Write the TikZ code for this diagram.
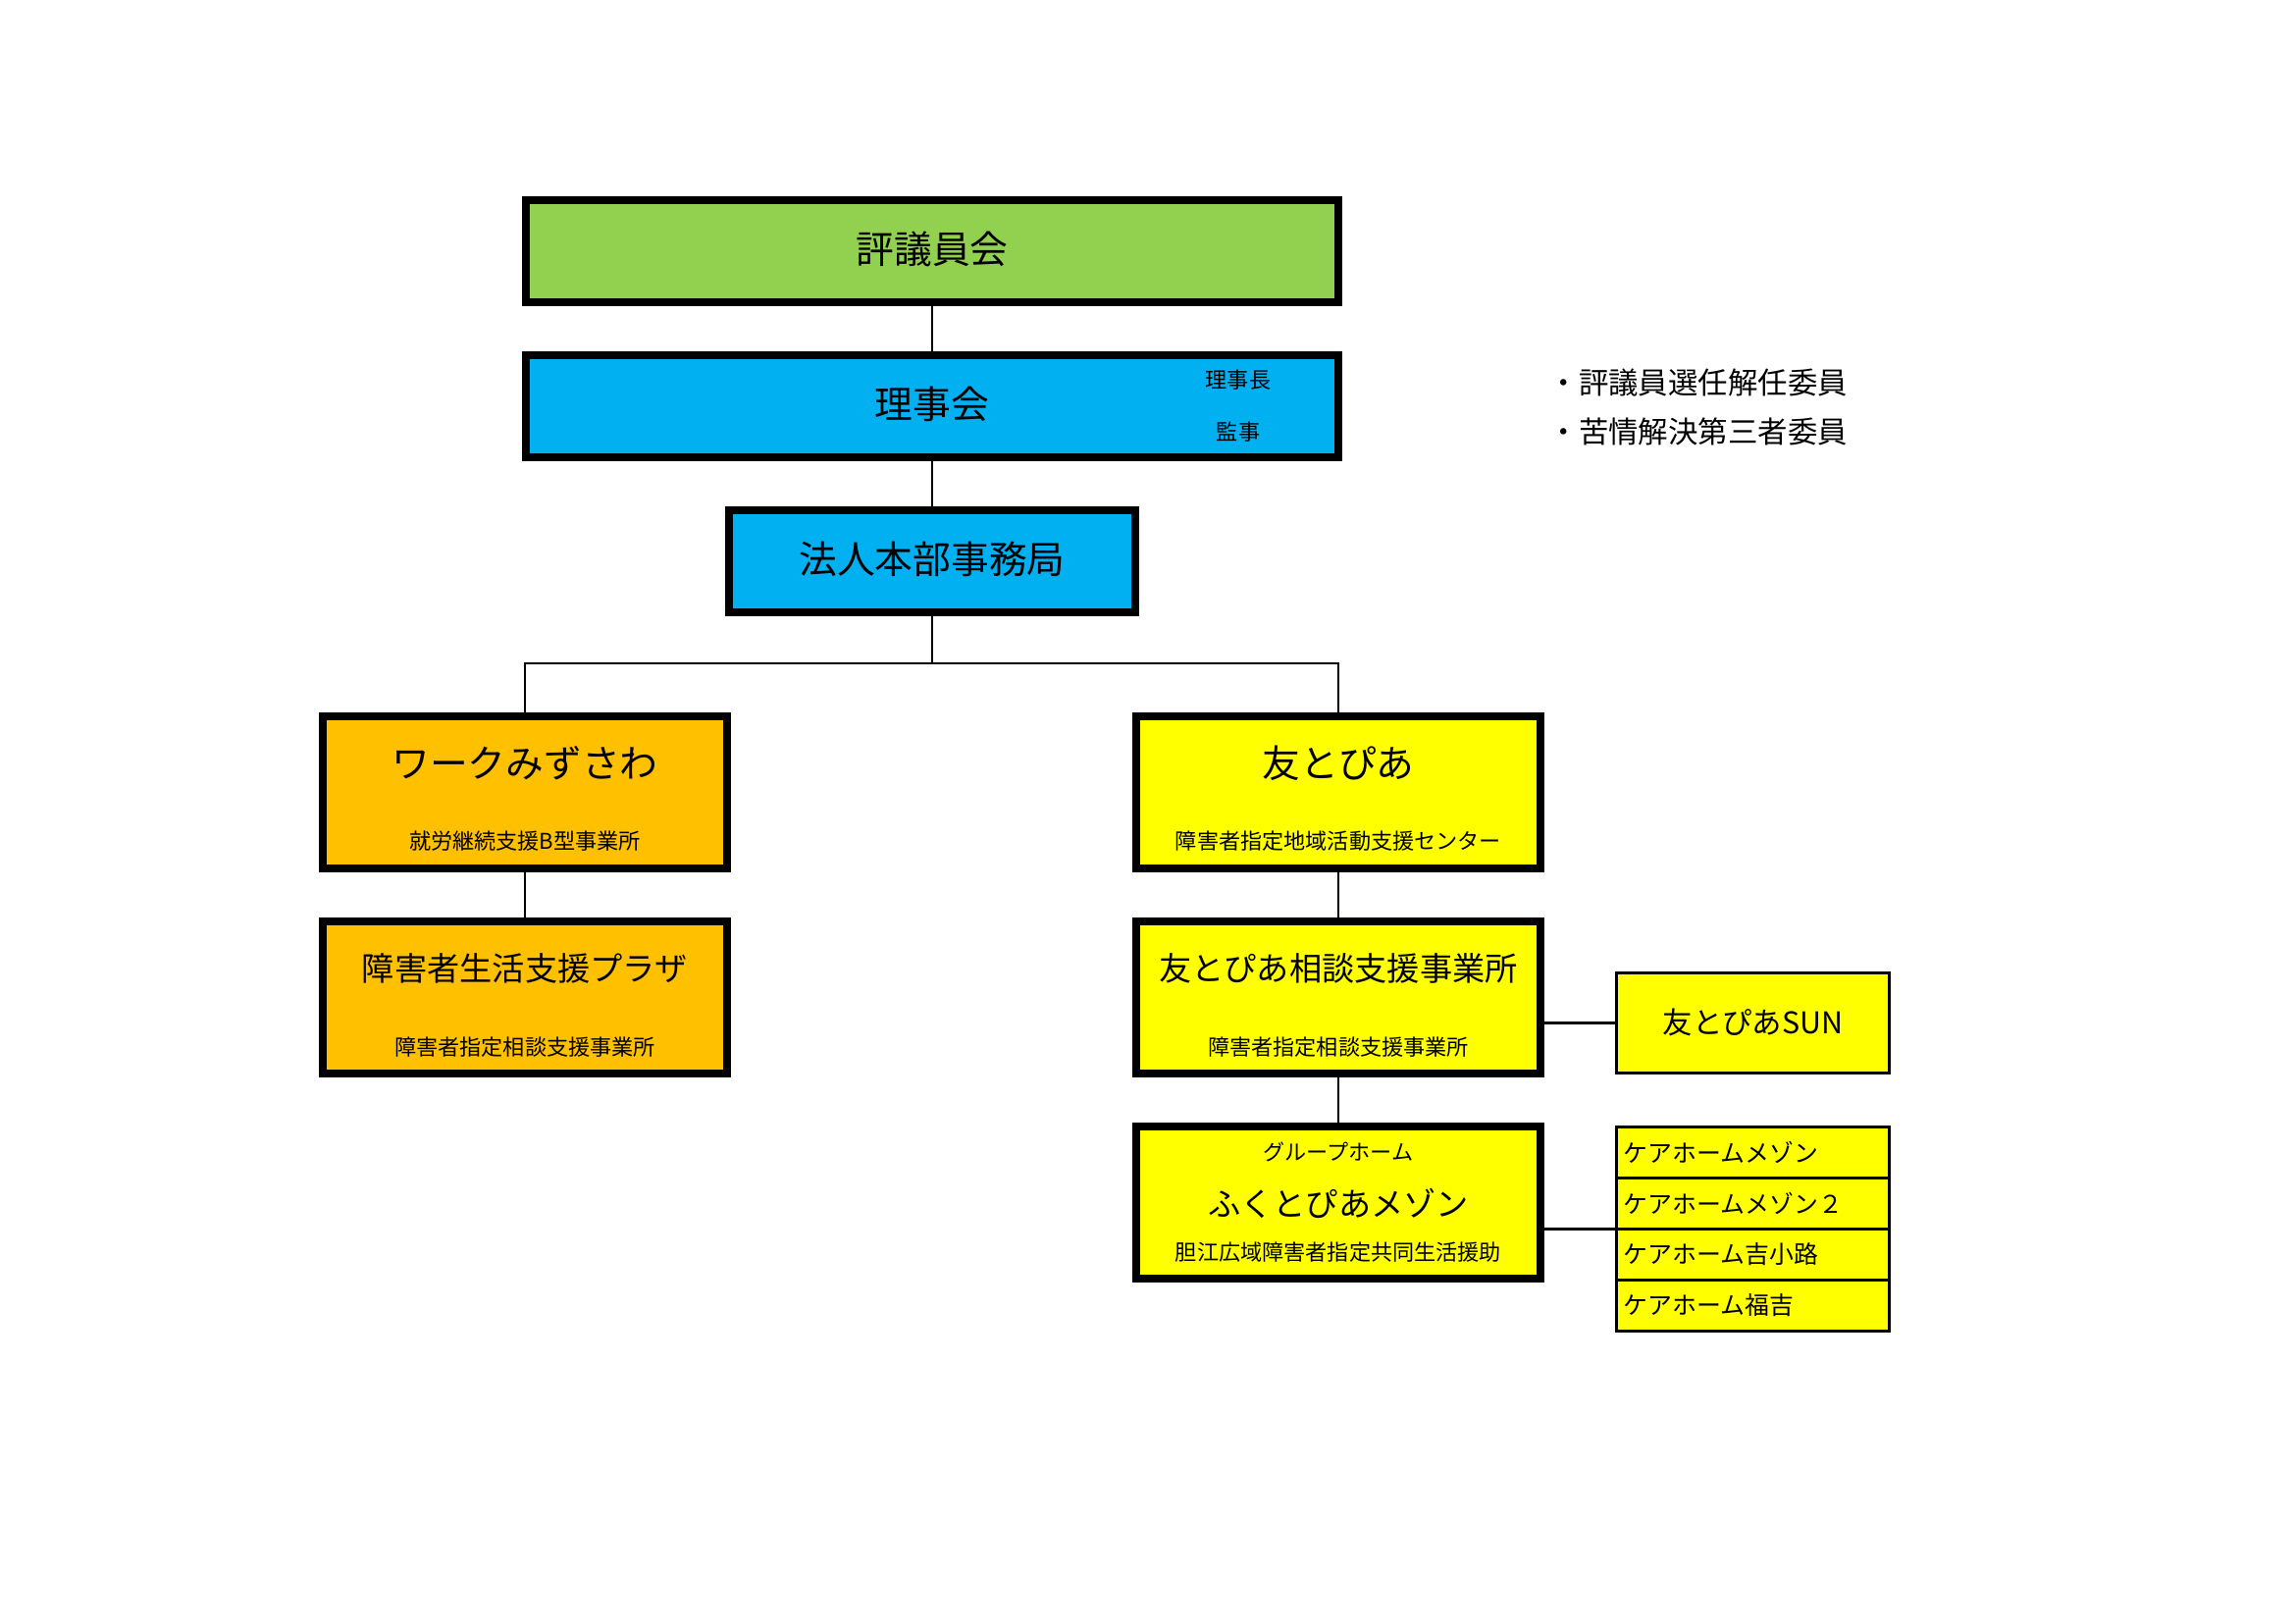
\documentclass[tikz,border=0pt]{standalone}
\usepackage{fontspec}
\setmainfont{Noto Sans CJK JP}
\definecolor{cgreen}{HTML}{92D050}
\definecolor{cblue}{HTML}{00B0F0}
\definecolor{corange}{HTML}{FFC000}
\definecolor{cyellow}{HTML}{FFFF00}
\begin{document}
\begin{tikzpicture}[x=0.127mm,y=-0.127mm,
  thickbox/.style={draw=black,line width=1.016mm,inner sep=0pt,minimum width=828*0.127mm,minimum height=104*0.127mm},
  unitbox/.style={draw=black,line width=1.016mm,inner sep=0pt,minimum width=412*0.127mm,minimum height=155*0.127mm},
  thinbox/.style={draw=black,line width=0.38mm,inner sep=0pt,outer sep=0pt,minimum width=278*0.127mm},
  conn/.style={draw=black,line width=0.28mm},
  tbig/.style={inner sep=0pt,font=\fontsize{14pt}{16pt}\selectfont},
  tmid/.style={inner sep=0pt,font=\fontsize{12pt}{14pt}\selectfont},
  tsmall/.style={inner sep=0pt,font=\fontsize{8pt}{10pt}\selectfont},
  tcare/.style={inner sep=0pt,anchor=west,font=\fontsize{9pt}{11pt}\selectfont},
  tnote/.style={inner sep=0pt,anchor=west,font=\fontsize{11pt}{13pt}\selectfont}]
\useasboundingbox[fill=white] (0,0) rectangle (2339,1654);

% top boxes
\node[thickbox,fill=cgreen] (hyo) at (950,256) {};
\node[tbig] (hyoT) at (950,254) {評議員会};
\node[thickbox,fill=cblue] (rij) at (950,414) {};
\node[tbig] (rijT) at (950,412) {理事会};
\node[tsmall] (rijC) at (1262,387) {理事長};
\node[tsmall] (rijK) at (1262,440) {監事};
\node[thickbox,fill=cblue,minimum width=414*0.127mm] (hq) at (950,572) {};
\node[tbig] (hqT) at (950,570) {法人本部事務局};

% notes
\node[tnote] (n1) at (1578,390) {・評議員選任解任委員};
\node[tnote] (n2) at (1578,440) {・苦情解決第三者委員};

% left branch
\node[unitbox,fill=corange] (work) at (535,807.5) {};
\node[tbig] (workT) at (535,778) {ワークみずさわ};
\node[tsmall] (workS) at (535,857) {就労継続支援B型事業所};
\node[unitbox,fill=corange] (plaza) at (535,1016.5) {};
\node[tmid] (plazaT) at (535,987) {障害者生活支援プラザ};
\node[tsmall] (plazaS) at (535,1067) {障害者指定相談支援事業所};

% right branch
\node[unitbox,fill=cyellow] (tomo) at (1364,807.5) {};
\node[tbig] (tomoT) at (1364,778) {友とぴあ};
\node[tsmall] (tomoS) at (1364,857) {障害者指定地域活動支援センター};
\node[unitbox,fill=cyellow] (soudan) at (1364,1016.5) {};
\node[tmid] (soudanT) at (1364,987) {友とぴあ相談支援事業所};
\node[tsmall] (soudanS) at (1364,1067) {障害者指定相談支援事業所};
\node[unitbox,fill=cyellow] (fuku) at (1364,1225.5) {};
\node[tsmall] (fukuG) at (1364,1174) {グループホーム};
\node[tmid] (fukuT) at (1364,1226) {ふくとぴあメゾン};
\node[tsmall] (fukuS) at (1364,1276) {胆江広域障害者指定共同生活援助};

% side boxes
\node[thinbox,fill=cyellow,minimum height=102*0.127mm] (sun) at (1786.5,1042.5) {};
\node[inner sep=0pt,font=\fontsize{11pt}{13pt}\selectfont] (sunT) at (1786.5,1042) {友とぴあSUN};
\node[thinbox,fill=cyellow,minimum height=52*0.127mm] (care1) at (1786.5,1174.5) {};
\node[thinbox,fill=cyellow,minimum height=52*0.127mm] (care2) at (1786.5,1226.5) {};
\node[thinbox,fill=cyellow,minimum height=52*0.127mm] (care3) at (1786.5,1278.5) {};
\node[thinbox,fill=cyellow,minimum height=52*0.127mm] (care4) at (1786.5,1330.5) {};
\node[tcare] (care1T) at (1654,1174) {ケアホームメゾン};
\node[tcare] (care2T) at (1654,1226) {ケアホームメゾン２};
\node[tcare] (care3T) at (1654,1278) {ケアホーム吉小路};
\node[tcare] (care4T) at (1654,1330) {ケアホーム福吉};

% connectors
\coordinate (bar) at (950,676);
\draw[conn] (hyo.south) -- (rij.north);
\draw[conn] (rij.south) -- (hq.north);
\draw[conn] (hq.south) -- (bar);
\draw[conn] (work.north) -- (work.north |- bar) -- (tomo.north |- bar) -- (tomo.north);
\draw[conn] (work.south) -- (plaza.north);
\draw[conn] (tomo.south) -- (soudan.north);
\draw[conn] (soudan.south) -- (fuku.north);
\draw[conn] (soudan.east |- sun.west) -- (sun.west);
\draw[conn] (fuku.east |- care2.south west) -- (care2.south west);
\end{tikzpicture}
\end{document}
